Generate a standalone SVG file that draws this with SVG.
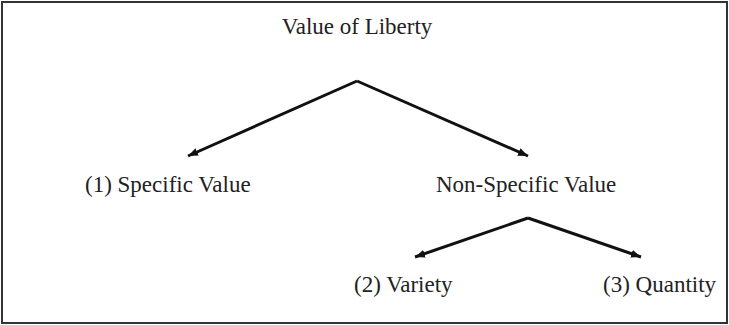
<svg xmlns="http://www.w3.org/2000/svg" width="729" height="325" viewBox="0 0 729 325">
<defs>
<marker id="ah" viewBox="0 0 10 8" refX="10" refY="4" markerWidth="10" markerHeight="8" markerUnits="userSpaceOnUse" orient="auto">
<path d="M0,0 L10,4 L0,8 Z" fill="#111"/>
</marker>
</defs>
<style>
text{font-family:"Liberation Serif","Times New Roman",serif;font-size:23px;fill:#222}
.c{stroke:#111;stroke-width:3;fill:none;marker-end:url(#ah)}
</style>
<rect x="2" y="2" width="725" height="321" fill="#fff" stroke="#333" stroke-width="2"/>
<g id="n-liberty"><text x="357" y="34" text-anchor="middle">Value of Liberty</text></g>
<g id="n-specific"><text x="85" y="192">(1) Specific Value</text></g>
<g id="n-nonspecific"><text x="436" y="192">Non-Specific Value</text></g>
<g id="n-variety"><text x="354" y="292">(2) Variety</text></g>
<g id="n-quantity"><text x="603" y="292">(3) Quantity</text></g>
<g id="connectors">
<path class="c" d="M357,81 L188,156"/>
<path class="c" d="M357,81 L528,156"/>
<path class="c" d="M528,218 L415,257"/>
<path class="c" d="M528,218 L641,257"/>
</g>
</svg>
